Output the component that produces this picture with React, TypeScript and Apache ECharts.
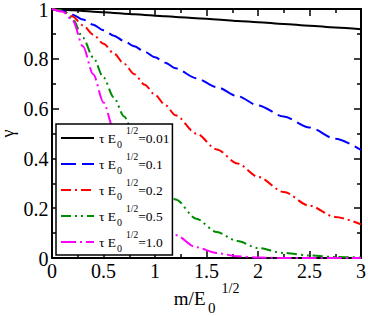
import React, { useEffect, useRef } from "react";
import * as echarts from "echarts";

const xs = [0, 0.1, 0.2, 0.3, 0.4, 0.5, 0.6, 0.7, 0.8, 0.9, 1.0, 1.1, 1.2, 1.4, 1.6, 1.8, 2.0, 2.25, 2.5, 2.75, 3.0];

const gamma001 = [1, 0.997, 0.995, 0.992, 0.989, 0.987, 0.984, 0.981, 0.979, 0.976, 0.973, 0.971, 0.968, 0.963, 0.958, 0.952, 0.947, 0.94, 0.933, 0.926, 0.919];
const gamma01 = [1, 0.992, 0.977, 0.958, 0.937, 0.915, 0.893, 0.871, 0.85, 0.828, 0.806, 0.784, 0.762, 0.722, 0.686, 0.65, 0.613, 0.568, 0.524, 0.479, 0.434];
const gamma02 = [1, 0.993, 0.97, 0.935, 0.898, 0.86, 0.822, 0.78, 0.738, 0.696, 0.655, 0.614, 0.573, 0.5, 0.436, 0.38, 0.326, 0.265, 0.21, 0.165, 0.135];
const gamma05 = [1, 0.995, 0.96, 0.885, 0.805, 0.725, 0.645, 0.568, 0.49, 0.415, 0.35, 0.29, 0.235, 0.158, 0.104, 0.068, 0.04, 0.02, 0.01, 0.004, 0.002];
const gamma10 = [1, 0.99, 0.955, 0.85, 0.738, 0.625, 0.515, 0.41, 0.315, 0.235, 0.17, 0.125, 0.092, 0.043, 0.02, 0.007, 0.002, 0, 0, 0, 0];

const tauLabels = ["0.01", "0.1", "0.2", "0.5", "1.0"];
const seriesValues = [gamma001, gamma01, gamma02, gamma05, gamma10];
const colors = ["#000000", "#0000ff", "#ff0000", "#008b00", "#ff00ff"];
const dashes: (string | number[])[] = ["solid", [15, 6], [10, 4, 2, 4], [10, 4, 2, 4, 2, 4], [15, 4, 2, 4]];

const xTickValues = [0, 0.5, 1, 1.5, 2, 2.5, 3];
const xTickLabels = ["0", "0.5", "1", "1.5", "2", "2.5", "3"];
const yTickValues = [0, 0.2, 0.4, 0.6, 0.8, 1];
const yTickLabels = ["0", "0.2", "0.4", "0.6", "0.8", "1"];

const xTicks = { min: 0, max: 3, interval: 0.5 };
const yTicks = { min: 0, max: 1, interval: 0.2 };

const FONT = "Liberation Serif";
const f = (size: number) => `${size}px Liberation Serif`;

function txt(text: string, x: number, y: number, size: number, align: string, vAlign: string, extra: any = {}) {
  return {
    type: "text",
    x,
    y,
    z: 100,
    silent: true,
    ...extra,
    style: {
      text,
      font: f(size),
      fill: "#000",
      align,
      verticalAlign: vAlign,
    },
  };
}

export default function App() {
  const ref = useRef<HTMLDivElement>(null);
  useEffect(() => {
    if (!ref.current) return;
    const chart = echarts.init(ref.current, undefined, { renderer: "svg" });
    const axisCommon = {
      axisLine: { show: true, onZero: false, lineStyle: { color: "#000", width: 2 } },
      axisTick: { show: true, inside: true, length: 7, lineStyle: { color: "#000", width: 1.5 } },
      minorTick: { show: true, splitNumber: 2, length: 4, lineStyle: { color: "#000", width: 1.5 } },
      splitLine: { show: false },
      axisLabel: { show: false },
    };
    const option: any = {
      animation: false,
      backgroundColor: "#fff",
      grid: { left: 52, top: 9, right: 7, bottom: 58, containLabel: false },
      xAxis: [
        { type: "value", position: "bottom", ...xTicks, ...axisCommon },
        { type: "value", position: "top", ...xTicks, ...axisCommon },
      ],
      yAxis: [
        { type: "value", position: "left", ...yTicks, ...axisCommon },
        { type: "value", position: "right", ...yTicks, ...axisCommon },
      ],
      legend: {
        orient: "vertical",
        left: 56,
        top: 124,
        itemWidth: 33,
        itemHeight: 14,
        itemGap: 2,
        padding: [2, 3, 1, 4],
        backgroundColor: "#fff",
        borderColor: "#000",
        borderWidth: 1.5,
        borderRadius: 0,
        data: tauLabels,
        itemStyle: { color: "rgba(0,0,0,0)", borderColor: "rgba(0,0,0,0)", borderWidth: 0, opacity: 0 },
        lineStyle: { width: 2 },
        formatter: (name: string) => `{a|τ E}{sub|0}{sup|1/2}{a|=${name}}`,
        textStyle: {
          color: "#000",
          fontFamily: FONT,
          fontSize: 13.5,
          rich: {
            a: { fontFamily: FONT, fontSize: 13.5, color: "#000", lineHeight: 16 },
            sub: { fontFamily: FONT, fontSize: 10, color: "#000", lineHeight: 16, padding: [12, 0, 0, 1] },
            sup: { fontFamily: FONT, fontSize: 9.5, color: "#000", lineHeight: 16, padding: [0, 0, 14, 4] },
          },
        },
      },
      series: tauLabels.map((name, k) => ({
        name,
        type: "line",
        xAxisIndex: 0,
        yAxisIndex: 0,
        data: xs.map((x, i) => [x, seriesValues[k][i]]),
        showSymbol: false,
        symbol: "none",
        smooth: 0.3,
        smoothMonotone: "x",
        clip: true,
        itemStyle: { color: colors[k] },
        lineStyle: { color: colors[k], width: 2, type: dashes[k] },
      })),
    };
    chart.setOption(option);

    const finder = { xAxisIndex: 0, yAxisIndex: 0 } as any;
    const px = (x: number, y: number) => chart.convertToPixel(finder, [x, y]) as number[];
    const elements: any[] = [];
    xTickValues.forEach((v, i) => {
      const p = px(v, 0);
      elements.push(txt(xTickLabels[i], p[0], p[1] + 12.5, 20, "center", "middle"));
    });
    yTickValues.forEach((v, i) => {
      const p = px(0, v);
      elements.push(txt(yTickLabels[i], p[0] - 3.5, p[1] + 0.5, 20, "right", "middle"));
    });
    const bl = px(0, 0);
    const br = px(3, 0);
    const tl = px(0, 1);
    const cx = (bl[0] + br[0]) / 2;
    const cy = (bl[1] + tl[1]) / 2;
    // x-axis name: m/E_0^{1/2}
    elements.push(txt("m/E", cx - 1, bl[1] + 40, 19, "right", "middle"));
    elements.push(txt("0", cx + 1.5, bl[1] + 50, 15, "left", "middle"));
    elements.push(txt("1/2", cx + 15, bl[1] + 30, 14, "left", "middle"));
    // y-axis name: gamma
    elements.push(txt("γ", bl[0] - 44, cy, 18, "center", "middle", { rotation: Math.PI / 2 }));
    chart.setOption({ graphic: elements });

    return () => chart.dispose();
  }, []);
  return <div ref={ref} style={{ position: "fixed", left: 0, top: 0, width: 368, height: 316 }} />;
}
